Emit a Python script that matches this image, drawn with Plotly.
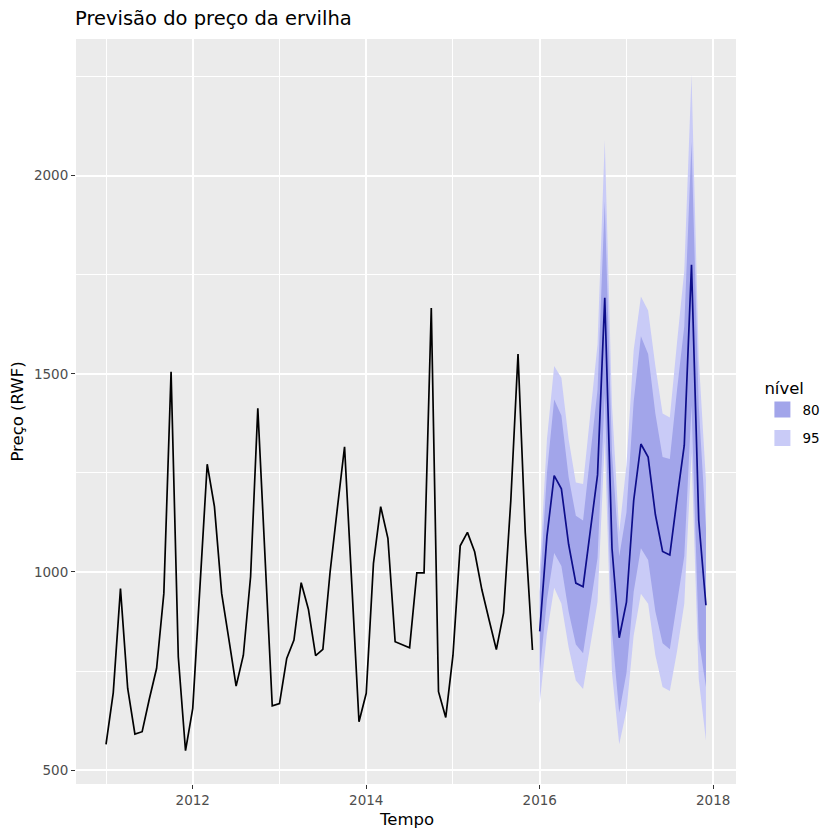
import numpy as np
import plotly.graph_objects as go

# série observada (mensal, jan/2011 a dez/2015)
start_obs = 2011
obs = [565, 695, 958, 706, 591, 597, 680, 757, 946, 1505, 786, 549,
       656, 950, 1272, 1165, 946, 830, 712, 790, 988, 1413, 1020, 662,
       668, 782, 828, 973, 906, 789, 805, 1000, 1160, 1316, 970, 622,
       694, 1022, 1165, 1085, 824, 816, 809, 998, 998, 1666, 698, 633,
       790, 1066, 1100, 1051, 955, 879, 804, 897, 1180, 1550, 1100, 803]

# previsão (jan/2016 a dez/2017)
start_fc = 2016
fc = [850, 1090, 1243, 1210, 1070, 972, 963, 1100, 1245, 1692, 1060, 834,
      924, 1180, 1323, 1290, 1145, 1052, 1043, 1185, 1320, 1775, 1130, 916]
lo80 = [745, 930, 1048, 1015, 900, 817, 795, 915, 1035, 1450, 850, 645,
        745, 950, 1060, 1030, 900, 820, 805, 920, 1040, 1420, 830, 710]
hi80 = [950, 1250, 1435, 1395, 1240, 1142, 1130, 1290, 1460, 1935, 1300, 1040,
        1150, 1430, 1595, 1550, 1400, 1290, 1285, 1460, 1620, 2085, 1420, 1110]
lo95 = [668, 845, 960, 920, 810, 726, 705, 815, 925, 1330, 745, 565,
        650, 840, 945, 920, 790, 710, 700, 800, 920, 1300, 730, 575]
hi95 = [1005, 1335, 1520, 1490, 1335, 1226, 1222, 1390, 1575, 2090, 1420, 1100,
        1270, 1560, 1695, 1660, 1520, 1400, 1390, 1580, 1760, 2255, 1540, 1230]

levels = ["80", "95"]
level_colors = ["#A2A5EA", "#C9CBF7"]

t_obs = start_obs + np.arange(len(obs)) / 12
t_fc = start_fc + np.arange(len(fc)) / 12

fig = go.Figure()

# faixas de previsão: 95 por baixo, 80 por cima
for lo, hi, col in [(lo95, hi95, level_colors[1]), (lo80, hi80, level_colors[0])]:
    fig.add_trace(go.Scatter(
        x=np.concatenate([t_fc, t_fc[::-1]]),
        y=np.concatenate([hi, lo[::-1]]),
        fill="toself", fillcolor=col, line=dict(width=0),
        mode="lines", showlegend=False, hoverinfo="skip"))

fig.add_trace(go.Scatter(x=t_obs, y=obs, mode="lines",
                         line=dict(color="black", width=1.7), showlegend=False))
fig.add_trace(go.Scatter(x=t_fc, y=fc, mode="lines",
                         line=dict(color="#0D0D8A", width=1.7), showlegend=False))

# entradas da legenda (quadrados)
for lev, col in zip(levels, level_colors):
    fig.add_trace(go.Scatter(x=[None], y=[None], mode="markers", name=lev,
                             marker=dict(symbol="square", size=20, color=col),
                             legendgroup=lev))

axis_font = dict(family="DejaVu Sans", size=13.5, color="#4D4D4D")

fig.update_layout(
    width=832, height=832,
    margin=dict(l=68, r=104, t=31, b=56),
    paper_bgcolor="white", plot_bgcolor="#EBEBEB",
    font=dict(family="DejaVu Sans", color="black"),
    title=dict(text="Previsão do preço da ervilha", x=0.0805, xanchor="left",
               y=0.988, yanchor="middle", font=dict(size=19.5, color="black")),
    legend=dict(title=dict(text="nível", font=dict(size=16.5)),
                font=dict(size=13.5), x=1.04, xanchor="left",
                y=0.552, yanchor="top", bgcolor="rgba(0,0,0,0)",
                itemsizing="trace", tracegroupgap=8),
    xaxis=dict(range=[2010.654, 2018.263], tickvals=[2012, 2014, 2016, 2018],
               showgrid=True, gridcolor="white", gridwidth=1.5,
               minor=dict(tickvals=[2011, 2013, 2015, 2017], showgrid=True,
                          gridcolor="white", gridwidth=0.7, ticks=""),
               ticks="outside", ticklen=4, tickcolor="#333333", tickwidth=1,
               tickfont=axis_font, zeroline=False, showline=False, automargin=False),
    yaxis=dict(range=[465, 2345], tickvals=[500, 1000, 1500, 2000],
               showgrid=True, gridcolor="white", gridwidth=1.5,
               minor=dict(tickvals=[750, 1250, 1750, 2250], showgrid=True,
                          gridcolor="white", gridwidth=0.7, ticks=""),
               ticks="outside", ticklen=4, tickcolor="#333333", tickwidth=1,
               tickfont=axis_font, zeroline=False, showline=False, automargin=False,
               title=dict(text="Preço (RWF)", font=dict(size=16.5, color="black"))),
    annotations=[dict(text="Tempo", x=0.5, y=-0.048, xref="paper", yref="paper",
                      xanchor="center", yanchor="middle", showarrow=False,
                      font=dict(size=16.5, color="black"))],
)

fig.write_html("out.html")
